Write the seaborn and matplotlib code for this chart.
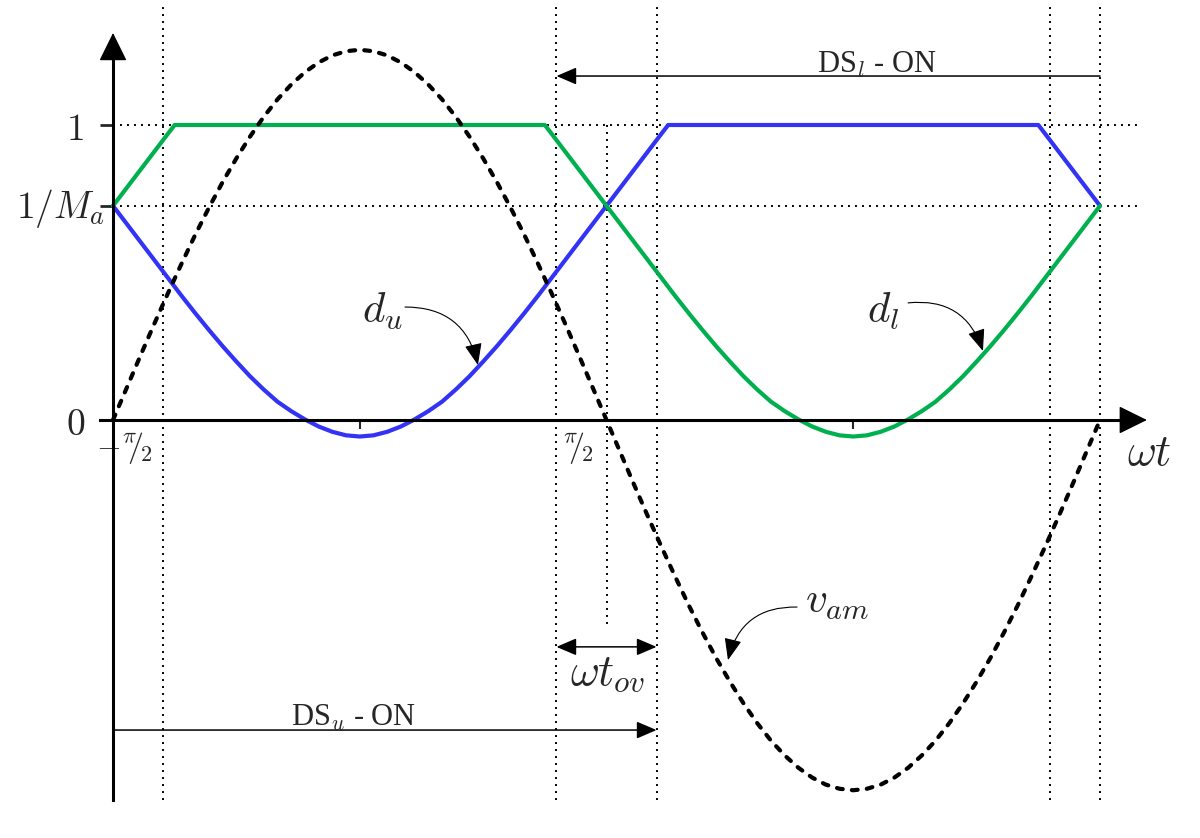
import numpy as np
import pandas as pd
import matplotlib.pyplot as plt
import seaborn as sns

# ================================
# 1. Data (wt in degrees)
# ================================
inv_Ma = 0.726      # level of 1/M_a
t_ov = 36.5         # overlap interval (deg), centred on pi/2

wt_vam = list(range(-90, 271, 5))
v_am = [0.0, 0.109, 0.218, 0.325, 0.429, 0.530, 0.628, 0.720, 0.807, 0.887,
        0.961, 1.028, 1.087, 1.137, 1.179, 1.212, 1.236, 1.250, 1.255,
        1.250, 1.236, 1.212, 1.179, 1.137, 1.087, 1.028, 0.961, 0.887,
        0.807, 0.720, 0.628, 0.530, 0.429, 0.325, 0.218, 0.109, 0.0,
        -0.109, -0.218, -0.325, -0.429, -0.530, -0.628, -0.720, -0.807, -0.887,
        -0.961, -1.028, -1.087, -1.137, -1.179, -1.212, -1.236, -1.250, -1.255,
        -1.250, -1.236, -1.212, -1.179, -1.137, -1.087, -1.028, -0.961, -0.887,
        -0.807, -0.720, -0.628, -0.530, -0.429, -0.325, -0.218, -0.109, 0.0]

wt_du = [-90, -85, -80, -75, -70, -65, -60, -55, -50, -45, -40, -35, -30, -25,
         -20, -15, -10, -5, 0, 5, 10, 15, 20, 25, 30, 35, 40, 45, 50, 55, 60,
         65, 70, 75, 80, 85, 90, 95, 100, 105, 110, 112.5,
         247.5, 250, 255, 260, 265, 270]
d_u = [0.726, 0.665, 0.604, 0.543, 0.482, 0.421, 0.362, 0.305, 0.250, 0.198,
       0.148, 0.103, 0.062, 0.030, 0.002, -0.022, -0.040, -0.052, -0.056,
       -0.052, -0.040, -0.022, 0.002, 0.030, 0.062, 0.103, 0.148, 0.198, 0.250,
       0.305, 0.362, 0.421, 0.482, 0.543, 0.604, 0.665, 0.726,
       0.787, 0.848, 0.909, 0.970, 1.0,
       1.0, 0.970, 0.909, 0.848, 0.787, 0.726]

wt_dl = [-90, -85, -80, -75, -70, -67.5, 67.5, 70, 75, 80, 85, 90, 95, 100,
         105, 110, 115, 120, 125, 130, 135, 140, 145, 150, 155, 160, 165, 170,
         175, 180, 185, 190, 195, 200, 205, 210, 215, 220, 225, 230, 235, 240,
         245, 250, 255, 260, 265, 270]
d_l = [0.726, 0.787, 0.848, 0.909, 0.970, 1.0, 1.0, 0.970, 0.909, 0.848, 0.787,
       0.726, 0.665, 0.604, 0.543, 0.482, 0.421, 0.362, 0.305, 0.250, 0.198,
       0.148, 0.103, 0.062, 0.030, 0.002, -0.022, -0.040, -0.052, -0.056,
       -0.052, -0.040, -0.022, 0.002, 0.030, 0.062, 0.103, 0.148, 0.198, 0.250,
       0.305, 0.362, 0.421, 0.482, 0.543, 0.604, 0.665, 0.726]

ytick_vals = [0, inv_Ma, 1]
ytick_labels = ['$0$', '$1/M_a$', '$1$']
xtick_vals = [0, 180]

BLUE = '#3333F5'
GREEN = '#00B04F'

# ================================
# 2. Figure setup
# ================================
sns.set_style("white")
plt.rcParams['mathtext.fontset'] = 'cm'
plt.rcParams['font.family'] = ['DejaVu Serif']

fig = plt.figure(figsize=(12, 8.38), dpi=100)
ax = fig.add_axes([0, 0, 1, 1])
ax.set_xlim(-131.22, 306.47)
ax.set_ylim(-1.4169, 1.4237)

# ================================
# 3. Dotted guide lines
# ================================
dot = dict(color='black', lw=1.4, linestyle=(0, (1, 2.6)), zorder=1)
for yv in [1, inv_Ma]:
    ax.plot([-90, 285.3], [yv, yv], **dot)
for xv in [-90 + t_ov / 2, 90 - t_ov / 2, 90 + t_ov / 2, 270 - t_ov / 2, 270]:
    ax.plot([xv, xv], [-1.288, 1.407], **dot)
ax.plot([90, 90], [1, -0.69], **dot)

# ================================
# 4. Curves
# ================================
sns.lineplot(x=wt_du, y=d_u, ax=ax, color=BLUE, lw=3, zorder=3)
sns.lineplot(x=wt_dl, y=d_l, ax=ax, color=GREEN, lw=3, zorder=3)
sns.lineplot(x=wt_vam, y=v_am, ax=ax, color='black', lw=3.0,
             linestyle=(0, (1.4, 2.2)), dash_capstyle='round', zorder=4)

# ================================
# 5. Axes, ticks and arrows
# ================================
for s in ['top', 'right']:
    ax.spines[s].set_visible(False)
ax.spines['left'].set_position(('data', -90))
ax.spines['bottom'].set_position(('data', 0))
ax.spines['left'].set_bounds(-1.288, 1.25)
ax.spines['bottom'].set_bounds(-94.74, 280)
for s in ['left', 'bottom']:
    ax.spines[s].set_linewidth(2.2)
    ax.spines[s].set_color('black')
    ax.spines[s].set_zorder(5)

ax.set_yticks(ytick_vals)
ax.set_xticks(xtick_vals)
ax.tick_params(axis='y', direction='out', length=9.4, width=2.0, labelleft=False, left=True)
ax.tick_params(axis='x', direction='out', length=6.5, width=1.5, labelbottom=False, bottom=True)

head = dict(arrowstyle='-|>,head_length=0.75,head_width=0.37', color='black',
            lw=1, mutation_scale=24, shrinkA=0, shrinkB=0)
ax.annotate('', xy=(287.1, 0), xytext=(276, 0), arrowprops=head, zorder=6)
ax.annotate('', xy=(-90, 1.312), xytext=(-90, 1.2), arrowprops=head, zorder=6)

# y labels
ax.text(-100.6, 0.949, ytick_labels[2], fontsize=27, ha='right', va='baseline')
ax.text(-92.9, 0.685, ytick_labels[1], fontsize=27, ha='right', va='baseline')
ax.text(-100.0, -0.051, ytick_labels[0], fontsize=27, ha='right', va='baseline')

# x labels
ax.text(-86, -0.095, r'$-{}^{\pi}\!\!/\!{}_{2}$', fontsize=23, ha='center', va='center')
ax.text(79.6, -0.095, r'${}^{\pi}\!\!/\!{}_{2}$', fontsize=23, ha='center', va='center')
ax.text(279.8, -0.153, r'$\omega t$', fontsize=32, ha='left', va='baseline')

# ================================
# 6. Interval arrows
# ================================
thin = dict(arrowstyle='-|>,head_length=0.7,head_width=0.3', color='black',
            lw=1.1, mutation_scale=17.5, shrinkA=0, shrinkB=0)
both = dict(arrowstyle='<|-|>,head_length=0.7,head_width=0.3', color='black',
            lw=1.1, mutation_scale=17.5, shrinkA=0, shrinkB=0)
ax.annotate('', xy=(90 - t_ov / 2, 1.166), xytext=(270, 1.166), arrowprops=thin)
ax.annotate('', xy=(90 + t_ov / 2, -1.051), xytext=(-90, -1.051), arrowprops=thin)
ax.annotate('', xy=(90 + t_ov / 2, -0.769), xytext=(90 - t_ov / 2, -0.769), arrowprops=both)

ax.text(188.7, 1.176, r'DS$_l$ - ON', fontsize=22, family='Liberation Serif',
        ha='center', va='baseline')
ax.text(-2.1, -1.037, r'DS$_u$ - ON', fontsize=22, family='Liberation Serif',
        ha='center', va='baseline')
ax.text(76.7, -0.898, r'$\omega t_{ov}$', fontsize=32, ha='left', va='baseline')

# ================================
# 7. Curve labels with curved pointers
# ================================
curl = dict(arrowstyle='-|>,head_length=0.75,head_width=0.3', color='black',
            lw=0.8, mutation_scale=18, shrinkA=0, shrinkB=0)
ax.text(0.8, 0.329, r'$d_u$', fontsize=31, ha='left', va='baseline')
ax.annotate('', xy=(43.1, 0.186), xytext=(16.5, 0.383),
            arrowprops=dict(curl, connectionstyle='arc3,rad=-0.4'))
ax.text(185.0, 0.329, r'$d_l$', fontsize=31, ha='left', va='baseline')
ax.annotate('', xy=(227.3, 0.234), xytext=(200.0, 0.397),
            arrowprops=dict(curl, connectionstyle='arc3,rad=-0.4'))
ax.text(162.4, -0.654, r'$v_{am}$', fontsize=31, ha='left', va='baseline')
ax.annotate('', xy=(134.3, -0.814), xytext=(159.5, -0.634),
            arrowprops=dict(curl, connectionstyle='arc3,rad=0.4'))

fig.savefig("out.png", dpi=100)
plt.close(fig)
